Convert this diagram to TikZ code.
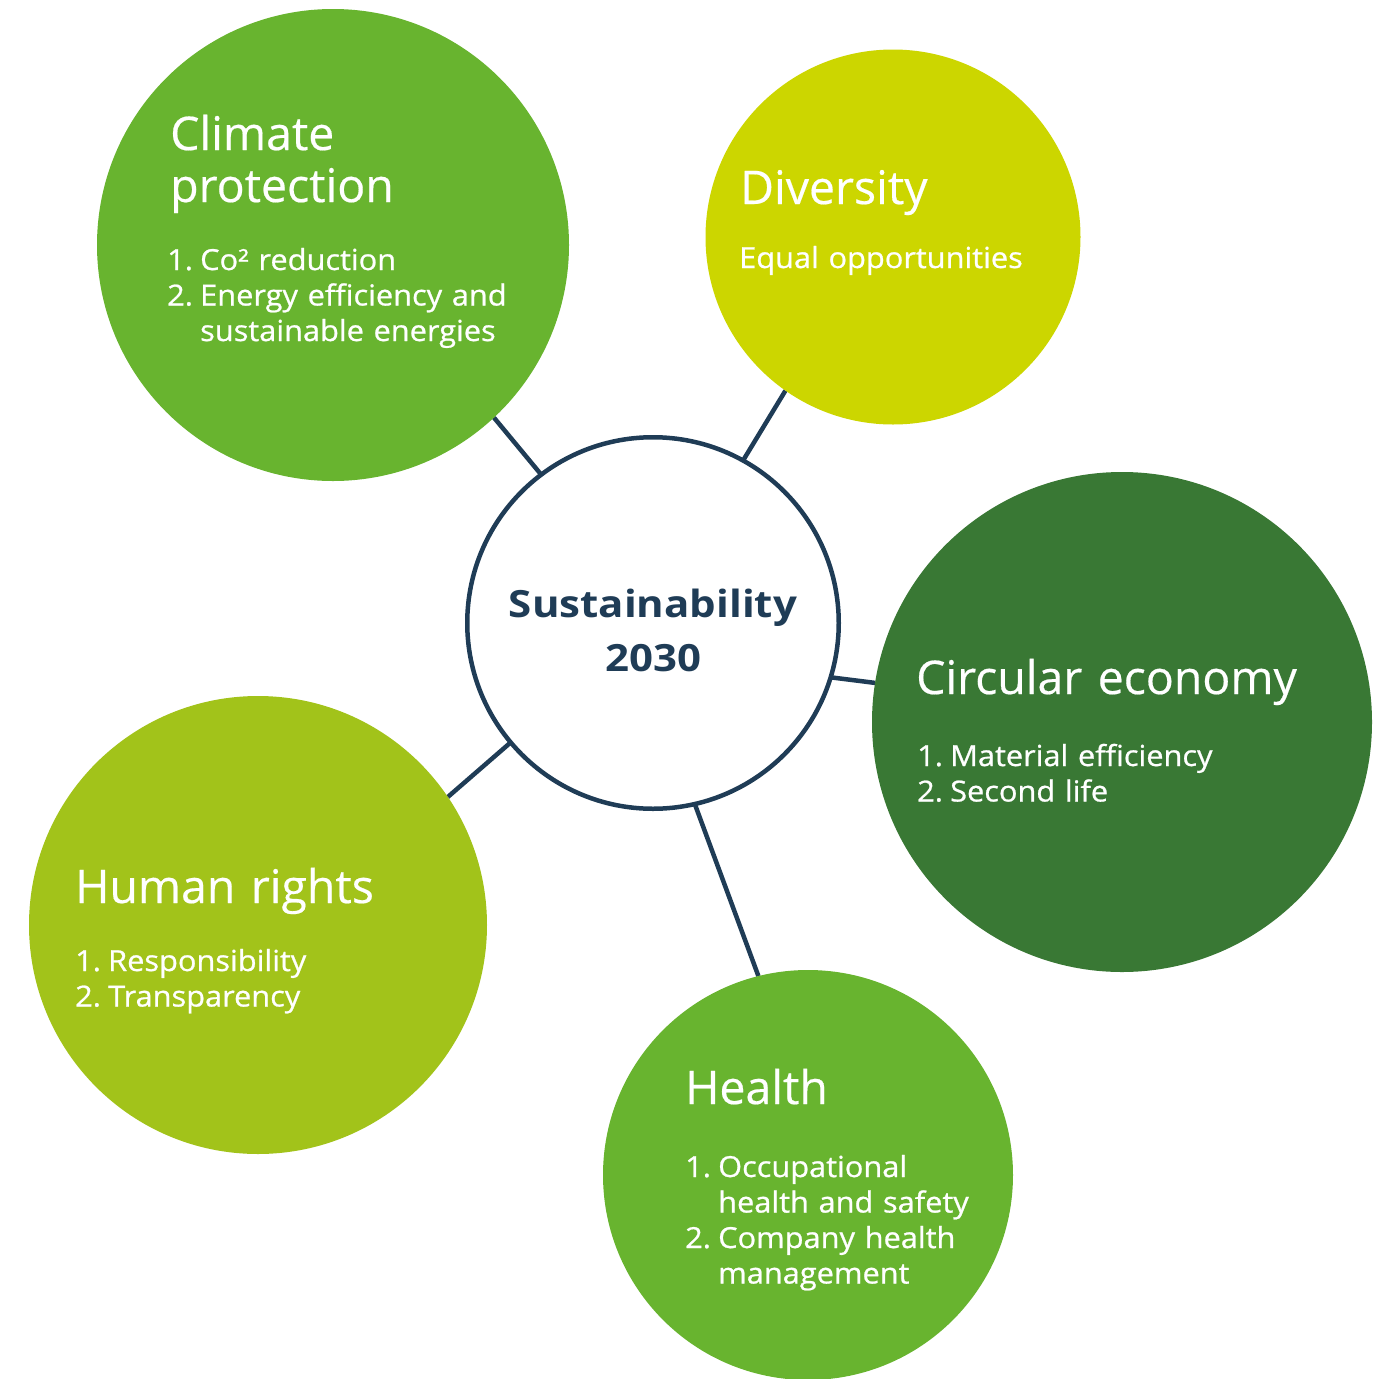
\documentclass[tikz,border=0pt]{standalone}
\usepackage{fontspec}
\setmainfont{Open Sans}
\newfontfamily\titlefont{Open Sans}[FakeBold=0.4]
\newfontfamily\bodyfont{Open Sans}[FakeStretch=1.06,FakeBold=0.8]
\newfontfamily\hubfont{Open Sans}[FakeStretch=1.12]
\usetikzlibrary{backgrounds}
\definecolor{leafgreen}{RGB}{104,180,47}
\definecolor{limeyellow}{RGB}{204,214,0}
\definecolor{forestgreen}{RGB}{57,120,52}
\definecolor{olivelime}{RGB}{162,195,26}
\definecolor{navyline}{RGB}{31,60,86}
\newcommand\itemnum[1]{\makebox[33pt][l]{#1}}
\newcommand\itemcont{\hspace*{33pt}}
\begin{document}
\begin{tikzpicture}[x=1pt,y=-1pt,
  bubble/.style={circle,inner sep=0pt,outer sep=0pt,minimum size=#1},
  ttl/.style={anchor=base west,inner sep=0pt,text=white,font=\titlefont\fontsize{46.4}{52}\selectfont,text width=500pt,align=left},
  bdy/.style={anchor=base west,inner sep=0pt,text=white,font=\bodyfont\fontsize{29}{35.5}\selectfont,text width=500pt,align=left},
  link/.style={draw=navyline,line width=4.5pt}]
\useasboundingbox (0,0) rectangle (1382,1379);
% bubbles
\node[bubble=472pt,fill=leafgreen] (climate) at (333,245) {};
\node[bubble=375pt,fill=limeyellow] (diversity) at (893,237) {};
\node[bubble=500pt,fill=forestgreen] (circular) at (1122,722) {};
\node[bubble=458pt,fill=olivelime] (human) at (258,925) {};
\node[bubble=410pt,fill=leafgreen] (health) at (808,1175) {};
\node[bubble=371.5pt,fill=white,draw=navyline,line width=4.5pt] (hub) at (653,623) {};
% connectors
\begin{scope}[on background layer]
\draw[link] (hub.127.8) -- (climate.-47.7);
\draw[link] (hub.61.4) -- (diversity.235.8);
\draw[link] (hub.-17.3) -- (circular.171);
\draw[link] (hub.220.1) -- (human.34.5);
\draw[link] (hub.-77.1) -- (health.104.4);
\end{scope}
% texts
\node[anchor=base,inner sep=0pt,text=navyline,font=\hubfont\bfseries\fontsize{37.5}{54}\selectfont,text width=400pt,align=center] (hubtext) at (653,617) {Sustainability\\2030};
\node[ttl] (climatet) at (170,150) {Climate\\protection};
\node[bdy] (climateb) at (167,270) {\itemnum{1.}Co² reduction\\\itemnum{2.}Energy efficiency and\\\itemcont sustainable energies};
\node[ttl] (diversityt) at (740,204) {Diversity};
\node[bdy] (diversityb) at (739,268) {Equal opportunities};
\node[ttl] (circulart) at (916,694) {Circular economy};
\node[bdy] (circularb) at (917,766) {\itemnum{1.}Material efficiency\\\itemnum{2.}Second life};
\node[ttl] (humant) at (75,903) {Human rights};
\node[bdy] (humanb) at (75,971) {\itemnum{1.}Responsibility\\\itemnum{2.}Transparency};
\node[ttl] (healtht) at (685,1104) {Health};
\node[bdy] (healthb) at (685,1177) {\itemnum{1.}Occupational\\\itemcont health and safety\\\itemnum{2.}Company health\\\itemcont management};
\end{tikzpicture}
\end{document}
